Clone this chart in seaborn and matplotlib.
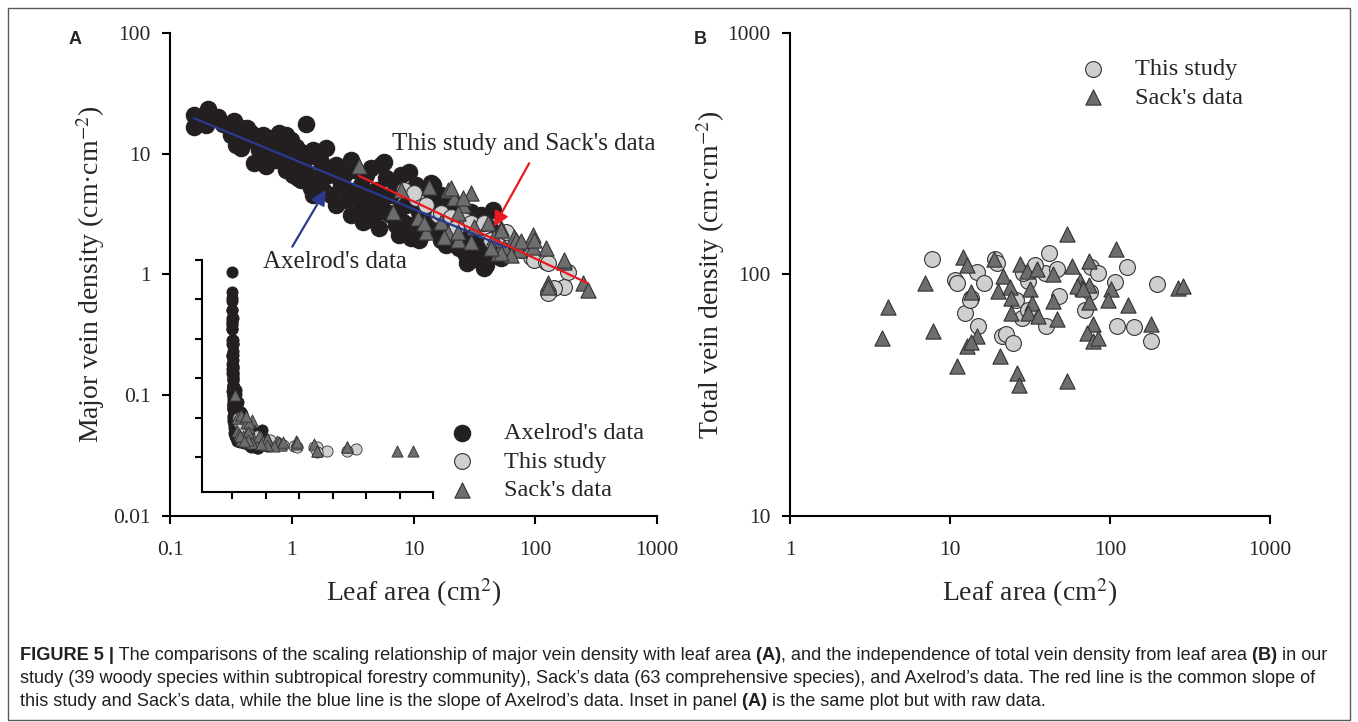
import numpy as np
import matplotlib
matplotlib.use("Agg")
import matplotlib.pyplot as plt
from matplotlib.patches import Rectangle
import seaborn as sns

# ---- Panel A: major vein density vs leaf area ----
axelrod_area = [0.157, 0.157, 0.179, 0.204, 0.224, 0.247, 0.271, 0.303, 0.334, 0.381,
                0.426, 0.381, 0.487, 0.611, 0.515, 0.578, 0.672, 0.782, 0.893, 1.30,
                0.460, 0.535, 0.647, 0.739, 0.843, 0.981, 1.08, 1.19, 0.945, 1.10,
                1.30, 1.49, 1.67, 1.90, 0.812, 0.981, 1.12, 1.43, 1.73, 1.30,
                1.57, 1.98, 2.30, 2.67, 3.05, 3.23, 2.53, 2.09, 3.05, 3.69,
                4.06, 4.46, 5.38, 5.92, 4.90, 3.69, 3.05, 4.06, 5.19, 6.51,
                7.16, 7.87, 9.15, 10.4, 11.5, 8.65, 6.51, 5.19, 7.16, 9.50,
                12.6, 13.9, 14.4, 16.8, 18.4, 16.8, 12.6, 9.50, 16.8, 20.2,
                22.3, 24.5, 20.2, 26.9, 29.6, 26.9, 34.4, 39.3, 37.8, 43.2,
                35.7, 47.4, 52.1, 57.3, 44.8, 39.3, 29.6, 23.5, 18.4, 37.8,
                27.5, 5.70, 13.9,
                0.197, 0.315, 0.347, 0.578, 0.443, 0.812, 0.893, 0.739, 1.19, 1.19,
                1.02, 1.73, 1.80, 1.49, 2.43, 2.78, 2.30, 3.55, 4.29, 3.83,
                5.59, 5.92, 4.63, 7.57, 8.17, 7.57, 11.1, 11.5, 11.1, 15.3,
                17.4, 23.5, 25.4, 33.1, 41.6]
axelrod_major = [20.9, 16.7, 18.7, 23.5, 19.8, 20.2, 17.6, 17.0, 18.7, 16.3,
                 16.3, 11.2, 8.38, 7.92, 12.8, 14.3, 13.5, 14.9, 14.3, 17.6,
                 14.9, 10.7, 11.6, 10.7, 12.3, 13.0, 11.4, 10.3, 9.77, 8.87,
                 9.22, 10.7, 9.77, 11.2, 10.1, 7.77, 6.30, 5.20, 8.55, 7.06,
                 6.06, 6.67, 8.07, 6.67, 8.87, 7.33, 5.51, 4.55, 4.82, 5.51,
                 6.67, 7.62, 8.07, 6.30, 5.01, 3.77, 3.11, 3.11, 3.77, 4.55,
                 5.51, 6.67, 7.06, 5.51, 4.55, 3.77, 3.11, 2.43, 2.57, 2.57,
                 3.11, 4.14, 5.51, 4.55, 3.77, 2.83, 2.25, 2.01, 1.93, 2.34,
                 3.11, 3.77, 4.14, 2.57, 1.93, 1.45, 1.32, 1.20, 1.75, 2.34,
                 3.11, 1.60, 1.37, 1.51, 3.42, 2.57, 3.29, 1.66, 1.75, 1.13,
                 1.25, 8.55, 5.73,
                 17.3, 14.3, 11.8, 9.22, 13.0, 8.87, 7.33, 8.87, 8.07, 6.06,
                 6.67, 6.67, 5.01, 4.55, 6.30, 4.14, 3.77, 4.55, 4.14, 2.72,
                 4.30, 3.29, 2.83, 3.42, 2.72, 2.12, 3.29, 2.57, 1.93, 2.43,
                 2.34, 2.12, 2.57, 1.66, 1.45]

this_area_a = [8.32, 10.4, 10.05, 15.8, 16.8, 20.2, 25.9, 29.6, 37.1, 37.8,
               43.2, 71.9, 92.0, 97.3, 122, 127, 185, 172, 142, 127,
               12.6, 22.3, 52.1, 57.3, 76.2]
this_major = [5.01, 4.30, 4.73, 3.11, 3.23, 2.99, 2.83, 2.67, 2.47, 2.67,
              1.93, 1.69, 1.40, 1.32, 1.27, 1.25, 1.05, 0.787, 0.773, 0.703,
              3.77, 2.43, 1.93, 2.25, 1.60]

sack_area_a = [3.55, 7.87, 6.76, 10.8, 13.4, 19.1, 21.4, 29.6, 25.4, 12.6,
               16.8, 19.1, 23.1, 31.3, 40.8, 52.1, 45.7, 29.6, 66.7, 71.9,
               55.2, 49.3, 25.4, 20.2, 23.1, 52.1, 69.3, 95.5, 122, 95.5,
               73.3, 63.1, 52.1, 43.2, 172, 127, 246, 270, 23.1, 76.2,
               97.3, 172, 12.2, 17.7, 127]
sack_major = [7.9, 5.01, 3.29, 2.94, 5.31, 5.01, 4.30, 4.73, 3.77, 2.25,
              2.72, 2.21, 1.93, 2.47, 2.67, 2.43, 2.05, 1.85, 2.05, 1.82,
              1.69, 1.51, 4.30, 5.20, 3.23, 2.34, 1.93, 2.12, 1.66, 1.69,
              1.60, 1.45, 1.51, 1.66, 1.27, 0.851, 0.851, 0.744, 2.25, 1.88,
              1.93, 1.32, 2.67, 2.05, 0.787]

# fitted lines in log10 space: (intercept, slope)
axelrod_fit = (0.959, -0.417)
common_fit = (1.078, -0.473)

# ---- Panel B: total vein density vs leaf area ----
this_area_b = [7.7, 10.7, 11.0, 14.7, 16.3, 13.6, 12.4, 15.0, 21.0, 22.5,
               24.8, 19.1, 19.6, 30.9, 39.1, 46.4, 41.8, 47.9, 26.0, 28.0,
               40.0, 30.9, 69.9, 76.5, 84.3, 127, 107, 75.0, 110.5, 141,
               181.7, 198, 13.3, 28.6, 33.8]
this_total = [116.4, 95.3, 92.5, 102, 92.5, 80, 69.3, 61.4, 55.8, 56.9,
              52, 116, 112, 93.8, 101.6, 105, 123, 81.3, 78.7, 66.1,
              61, 71.6, 71.6, 107.6, 101.6, 107, 93, 84.6, 61, 60.7,
              53.1, 91.4, 78.7, 101.6, 109]

sack_area_b = [3.76, 4.1, 7.8, 7.0, 11.1, 12.1, 12.8, 13.5, 14.7, 12.7,
               13.6, 18.9, 20.5, 21.5, 20.0, 23.7, 24.2, 24.2, 26.3, 27.0,
               27.3, 30.2, 31.6, 32.6, 30.9, 34.9, 35.6, 44.3, 44.3, 46.9,
               53.7, 54.0, 58.0, 65.0, 66.5, 74.0, 74.0, 74.0, 78.5, 71.8,
               78.5, 108.5, 101.7, 97.4, 130, 84.3, 181, 266, 287, 61.8, 68.0]
sack_total = [54.8, 73.6, 58.5, 92.5, 41.7, 118, 109, 85, 55.8, 50.4,
              52.6, 116, 45.8, 98.4, 85.1, 88.9, 80, 69.3, 39.1, 35,
              111, 103, 86.7, 76.4, 69.3, 105, 67.1, 100, 77.4, 65.5,
              36.1, 146.6, 108, 93.8, 88.1, 113.5, 90.8, 76.8, 62.1, 57.3,
              53.1, 128, 86.7, 78.7, 75.1, 54.6, 62.4, 88.1, 89.3, 89.3, 86.7]

a_xticks = [0.1, 1, 10, 100, 1000]
a_xlabels = ["0.1", "1", "10", "100", "1000"]
a_yticks = [0.01, 0.1, 1, 10, 100]
a_ylabels = ["0.01", "0.1", "1", "10", "100"]
b_xticks = [1, 10, 100, 1000]
b_xlabels = ["1", "10", "100", "1000"]
b_yticks = [10, 100, 1000]
b_ylabels = ["10", "100", "1000"]
inset_xticks = [0, 50, 100, 150, 200, 250, 300]
inset_yticks = [0, 5, 10, 15, 20, 25]

caption_lines = [
    [("FIGURE 5 |", True),
     (" The comparisons of the scaling relationship of major vein density with leaf area", False),
     (" (A)", True),
     (", and the independence of total vein density from leaf area", False),
     (" (B)", True),
     (" in our", False)],
    [("study (39 woody species within subtropical forestry community), Sack\u2019s data "
      "(63 comprehensive species), and Axelrod\u2019s data. The red line is the common slope of", False)],
    [("this study and Sack\u2019s data, while the blue line is the slope of Axelrod\u2019s data. "
      "Inset in panel", False),
     (" (A)", True),
     (" is the same plot but with raw data.", False)],
]


if __name__ == "__main__":
    sns.set_style("ticks")
    plt.rcParams["font.family"] = ["Liberation Serif", "DejaVu Serif"]
    plt.rcParams["mathtext.fontset"] = "stix"

    W, H = 1358, 722
    fig = plt.figure(figsize=(W / 100, H / 100), dpi=100)
    fig.patch.set_facecolor("white")

    def px_box(left, top, right, bottom):
        return [left / W, 1 - bottom / H, (right - left) / W, (bottom - top) / H]

    ax_a = fig.add_axes(px_box(170, 33, 657, 516))
    ax_b = fig.add_axes(px_box(790, 33, 1270, 516))
    ax_in = fig.add_axes(px_box(202, 260, 433, 492))
    ax_in.set_facecolor("none")

    black = "#231f20"
    light = "#cfcfcf"
    dark = "#6d6d6d"
    edge = "#333333"
    red = "#e8191f"
    navy = "#2b3990"

    def draw(ax, x, y, marker, face, s, label=None, ec=edge, lw=0.8):
        sns.scatterplot(x=x, y=y, ax=ax, marker=marker, color=face, s=s,
                        edgecolor=ec, linewidth=lw, label=label, legend=False)

    # panel A
    draw(ax_a, axelrod_area, axelrod_major, "o", black, 140, "Axelrod's data", ec=black)
    draw(ax_a, this_area_a, this_major, "o", light, 130, "This study")
    draw(ax_a, sack_area_a, sack_major, "^", dark, 120, "Sack's data")

    def fit_line(ax, fit, xs, color):
        lx = np.log10([min(xs), max(xs)])
        ly = fit[0] + fit[1] * lx
        ax.plot(10 ** lx, 10 ** ly, color=color, lw=1.6, zorder=5)

    fit_line(ax_a, axelrod_fit, axelrod_area, navy)
    fit_line(ax_a, common_fit, sack_area_a + this_area_a, red)

    ax_a.annotate("", xy=(45.9, 2.49), xytext=(89.1, 8.34),
                  arrowprops=dict(arrowstyle="-|>", color=red, lw=1.6,
                                  mutation_scale=22, shrinkA=0, shrinkB=0), zorder=6)
    ax_a.annotate("", xy=(1.90, 5.01), xytext=(1.01, 1.70),
                  arrowprops=dict(arrowstyle="-|>", color=navy, lw=1.6,
                                  mutation_scale=22, shrinkA=0, shrinkB=0), zorder=6)
    ax_a.text(79.8, 12.0, "This study and Sack's data", ha="center", va="center", fontsize=18)
    ax_a.text(2.26, 1.27, "Axelrod's data", ha="center", va="center", fontsize=18)

    # inset with raw (linear) data
    draw(ax_in, axelrod_area, axelrod_major, "o", black, 65, ec=black, lw=0.6)
    draw(ax_in, this_area_a, this_major, "o", light, 65, lw=0.6)
    draw(ax_in, sack_area_a, sack_major, "^", dark, 65, lw=0.6)
    ax_in.set_xlim(-45, 300)
    ax_in.set_ylim(-4.4, 25)
    ax_in.set_xticks(inset_xticks)
    ax_in.set_yticks(inset_yticks)
    ax_in.tick_params(labelbottom=False, labelleft=False, direction="out",
                      length=5, width=1.5, color="black")
    sns.despine(ax=ax_in)
    for s in ("left", "bottom"):
        ax_in.spines[s].set_linewidth(1.5)
        ax_in.spines[s].set_color("black")

    # panel B
    draw(ax_b, this_area_b, this_total, "o", light, 130, "This study")
    draw(ax_b, sack_area_b, sack_total, "^", dark, 120, "Sack's data")

    for ax in (ax_a, ax_b):
        ax.set_xscale("log")
        ax.set_yscale("log")
        sns.despine(ax=ax)
        for s in ("left", "bottom"):
            ax.spines[s].set_linewidth(1.5)
            ax.spines[s].set_color("black")
        ax.tick_params(direction="out", length=6, width=1.5, labelsize=15.5,
                       pad=8, color="black")
        ax.tick_params(axis="x", pad=12)

    ax_a.set_xlim(0.1, 1000)
    ax_a.set_ylim(0.01, 100)
    ax_a.set_xticks(a_xticks)
    ax_a.set_xticklabels(a_xlabels)
    ax_a.set_yticks(a_yticks)
    ax_a.set_yticklabels(a_ylabels)
    ax_a.minorticks_off()

    ax_b.set_xlim(1, 1000)
    ax_b.set_ylim(10, 1000)
    ax_b.set_xticks(b_xticks)
    ax_b.set_xticklabels(b_xlabels)
    ax_b.set_yticks(b_yticks)
    ax_b.set_yticklabels(b_ylabels)
    ax_b.minorticks_off()

    ax_a.set_xlabel("Leaf area (cm$^2$)", fontsize=20, labelpad=11.5)
    ax_a.set_ylabel("Major vein density (cm\u00b7cm$^{-2}$)", fontsize=20, labelpad=4)
    ax_b.set_xlabel("Leaf area (cm$^2$)", fontsize=20, labelpad=11.5)
    ax_b.set_ylabel("Total vein density (cm\u00b7cm$^{-2}$)", fontsize=20, labelpad=0)

    leg_kw = dict(loc="upper left", frameon=False, fontsize=17.5, borderpad=0,
                  borderaxespad=0, handlelength=1.2, handletextpad=1.15,
                  labelspacing=0.27, scatterpoints=1)
    h, l = ax_a.get_legend_handles_labels()
    ax_a.legend(h, l, bbox_to_anchor=((447 - 170) / 487, (516 - 422) / 483), **leg_kw)
    h, l = ax_b.get_legend_handles_labels()
    ax_b.legend(h, l, bbox_to_anchor=((1078 - 790) / 480, (516 - 58) / 483), **leg_kw)

    # panel letters
    for letter, xp in (("A", 75), ("B", 700)):
        fig.text(xp / W, 1 - 39 / H, letter, family=["Liberation Sans", "DejaVu Sans"],
                 weight="bold", fontsize=13, ha="center", va="center")

    # caption
    renderer = fig.canvas.get_renderer()
    cap_color = "#231f20"
    for segs, yb in zip(caption_lines, [660, 683, 706]):
        x = 20 / W
        for txt, bold in segs:
            t = fig.text(x, 1 - yb / H, txt, fontsize=13.1,
                         family=["Liberation Sans", "DejaVu Sans"],
                         weight="bold" if bold else "normal", color=cap_color,
                         ha="left", va="baseline")
            bb = t.get_window_extent(renderer=renderer)
            x = bb.x1 / W

    # outer frame
    fig.add_artist(Rectangle((8 / W, 1 - 720 / H), (1350 - 8) / W, (720 - 8) / H,
                             transform=fig.transFigure, fill=False,
                             edgecolor="#5a5a5a", lw=1.0))

    fig.savefig("out.png", dpi=100)
